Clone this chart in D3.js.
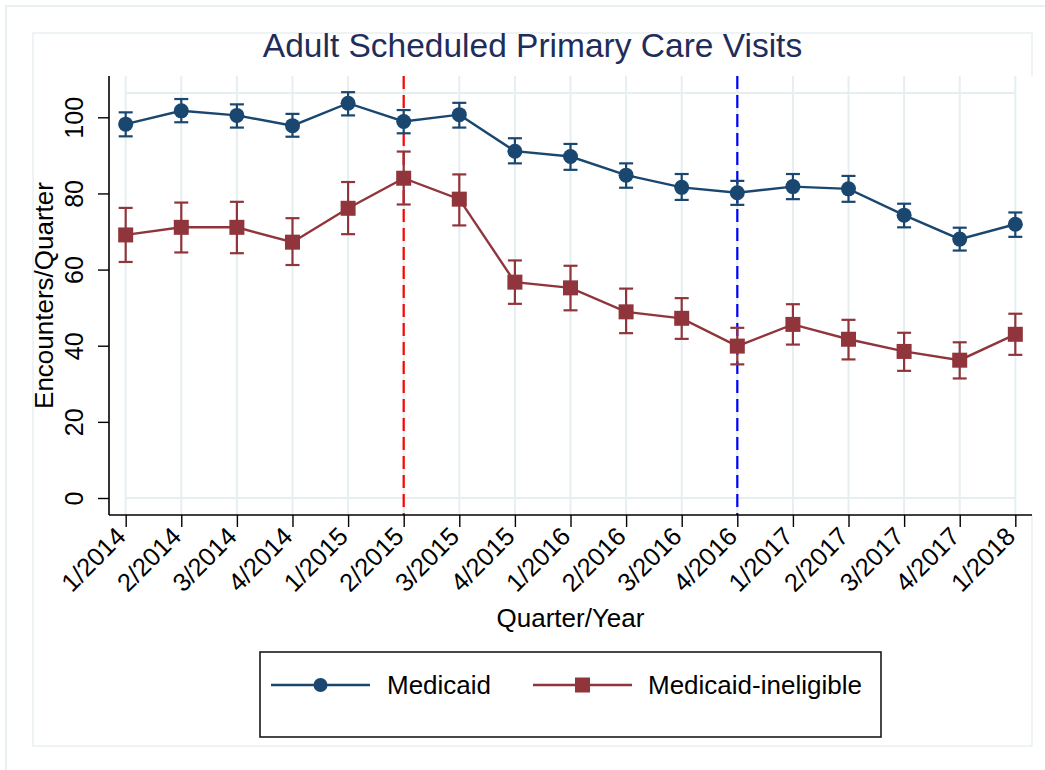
<!DOCTYPE html>
<html><head><meta charset="utf-8">
<script src="https://cdn.jsdelivr.net/npm/d3@7"></script>
<style>
html,body{margin:0;padding:0;background:#fff;}
svg{display:block;font-family:"Liberation Sans",Arial,sans-serif;}
</style></head>
<body>
<svg id="chart" width="1045" height="770"></svg>
<script>
// ---- data ----
const quarters = ["1/2014","2/2014","3/2014","4/2014","1/2015","2/2015","3/2015","4/2015","1/2016","2/2016","3/2016","4/2016","1/2017","2/2017","3/2017","4/2017","1/2018"];
const medicaid      = [98.2,101.7,100.5,97.8,103.7,98.9,100.7,91.1,89.7,84.8,81.6,80.2,81.8,81.2,74.3,68.0,71.9];
const medicaidLo    = [95.0,98.7,97.3,94.9,100.5,95.8,97.3,87.9,86.2,81.5,78.3,77.0,78.5,77.8,71.1,65.0,68.6];
const medicaidHi    = [101.3,104.8,103.4,100.9,106.6,101.9,103.8,94.5,93.0,87.9,85.1,83.3,85.1,84.6,77.3,71.0,75.0];
const ineligible    = [69.1,71.1,71.1,67.2,76.1,84.0,78.5,56.7,55.2,48.9,47.2,39.9,45.6,41.7,38.5,36.2,43.0];
const ineligibleLo  = [62.0,64.5,64.3,61.2,69.3,77.1,71.6,51.0,49.3,43.3,41.8,35.1,40.3,36.4,33.4,31.4,37.6];
const ineligibleHi  = [76.2,77.6,77.8,73.5,83.0,91.0,85.0,62.4,61.0,55.0,52.5,44.7,50.9,46.8,43.4,40.9,48.4];
const yTicks = [0,20,40,60,80,100];
const refLines = [{q:"2/2015", color:"#ff0000"},{q:"4/2016", color:"#0000ff"}];
const seriesNames = ["Medicaid","Medicaid-ineligible"];
const title = "Adult Scheduled Primary Care Visits";
const yTitle = "Encounters/Quarter";
const xTitle = "Quarter/Year";

// ---- layout ----
const svg = d3.select("#chart");
const P = {left:109, right:1032, top:76, bottom:515};
const navy = "#1a476f", maroon = "#90353b", grid = "#e6eef0";

const x = d3.scalePoint().domain(quarters).range([P.left, P.right]).padding(0.3);
const y = d3.scaleLinear().domain([0,100]).range([498,117.3]);

// outer frames
svg.append("rect").attr("x",6).attr("y",6).attr("width",1060).attr("height",790)
  .attr("fill","none").attr("stroke","#e9f0f2").attr("stroke-width",2);
svg.append("rect").attr("x",33).attr("y",33).attr("width",999).attr("height",713)
  .attr("fill","none").attr("stroke","#e9f0f2").attr("stroke-width",1.5);
// plot region
svg.append("rect").attr("x",P.left).attr("y",P.top).attr("width",P.right-P.left+2).attr("height",P.bottom-P.top)
  .attr("fill","#fff");

// grid: verticals at each quarter
svg.append("g").selectAll("line").data(quarters).join("line")
  .attr("x1",d=>x(d)).attr("x2",d=>x(d)).attr("y1",P.top).attr("y2",P.bottom)
  .attr("stroke",grid).attr("stroke-width",2);
// inner plot-region outline (horizontal lines)
const innerTop = 93;
svg.append("line").attr("x1",x(quarters[0])).attr("x2",x(quarters[quarters.length-1]))
  .attr("y1",innerTop).attr("y2",innerTop).attr("stroke",grid).attr("stroke-width",2);
svg.append("line").attr("x1",x(quarters[0])).attr("x2",x(quarters[quarters.length-1]))
  .attr("y1",y(0)).attr("y2",y(0)).attr("stroke",grid).attr("stroke-width",2);

// reference dashed lines
svg.append("g").selectAll("line").data(refLines).join("line")
  .attr("x1",d=>x(d.q)).attr("x2",d=>x(d.q)).attr("y1",P.top).attr("y2",P.bottom)
  .attr("stroke",d=>d.color).attr("stroke-width",2.2).attr("stroke-dasharray","13,6");

// axes
const yAxis = svg.append("g").attr("transform",`translate(${P.left},0)`)
  .call(d3.axisLeft(y).tickValues(yTicks).tickSize(11).tickFormat(d3.format("d")));
yAxis.select(".domain").attr("d",`M0,${P.top}V${P.bottom}`).attr("stroke","#000").attr("stroke-width",1.6);
yAxis.selectAll(".tick line").attr("stroke","#000").attr("stroke-width",1.4);
yAxis.selectAll(".tick text").attr("x",null).attr("dy",null)
  .attr("transform","translate(-26,0) rotate(-90)").attr("text-anchor","middle")
  .attr("font-size",25).attr("fill","#000").attr("font-family","Liberation Sans, Arial, sans-serif");

const xAxis = svg.append("g").attr("transform",`translate(0,${P.bottom})`)
  .call(d3.axisBottom(x).tickSize(12));
xAxis.select(".domain").attr("d",`M${P.left},0H${P.right}`).attr("stroke","#000").attr("stroke-width",1.6);
xAxis.selectAll(".tick line").attr("stroke","#000").attr("stroke-width",1.4);
xAxis.selectAll(".tick text").attr("y",null).attr("dy",null)
  .attr("transform","translate(1,23) rotate(-45)").attr("text-anchor","end")
  .attr("font-size",25.5).attr("fill","#000").attr("font-family","Liberation Sans, Arial, sans-serif");

// titles
svg.append("text").attr("x",532.5).attr("y",57).attr("text-anchor","middle")
  .attr("font-size",33.5).attr("fill","#1f2d5a").text(title);
svg.append("text").attr("transform",`translate(53,${(P.top+P.bottom)/2}) rotate(-90)`).attr("text-anchor","middle")
  .attr("font-size",26).attr("fill","#000").text(yTitle);
svg.append("text").attr("x",(P.left+P.right)/2).attr("y",627).attr("text-anchor","middle")
  .attr("font-size",26).attr("fill","#000").text(xTitle);

// series
const series = [
  {name:seriesNames[0], v:medicaid, lo:medicaidLo, hi:medicaidHi, color:navy, shape:"circle"},
  {name:seriesNames[1], v:ineligible, lo:ineligibleLo, hi:ineligibleHi, color:maroon, shape:"square"}
];
const line = d3.line().x((d,i)=>x(quarters[i])).y(d=>y(d));
series.forEach(s=>{
  const g = svg.append("g");
  const idx = d3.range(quarters.length);
  // error bars
  g.selectAll("line.eb").data(idx).join("line").attr("class","eb")
    .attr("x1",i=>x(quarters[i])).attr("x2",i=>x(quarters[i]))
    .attr("y1",i=>y(s.lo[i])).attr("y2",i=>y(s.hi[i]))
    .attr("stroke",s.color).attr("stroke-width",2.2);
  ["lo","hi"].forEach(k=>{
    g.selectAll("line.cap"+k).data(idx).join("line").attr("class","cap"+k)
      .attr("x1",i=>x(quarters[i])-7).attr("x2",i=>x(quarters[i])+7)
      .attr("y1",i=>y(s[k][i])).attr("y2",i=>y(s[k][i]))
      .attr("stroke",s.color).attr("stroke-width",2.2);
  });
  g.append("path").datum(s.v).attr("d",line).attr("fill","none")
    .attr("stroke",s.color).attr("stroke-width",2.4);
  if(s.shape==="circle"){
    g.selectAll("circle").data(s.v).join("circle")
      .attr("cx",(d,i)=>x(quarters[i])).attr("cy",d=>y(d)).attr("r",7.5).attr("fill",s.color);
  } else {
    g.selectAll("rect").data(s.v).join("rect")
      .attr("x",(d,i)=>x(quarters[i])-7.5).attr("y",d=>y(d)-7.5).attr("width",15).attr("height",15).attr("fill",s.color);
  }
});

// legend
const lg = svg.append("g");
lg.append("rect").attr("x",260).attr("y",652).attr("width",621).attr("height",85)
  .attr("fill","#fff").attr("stroke","#1a1a1a").attr("stroke-width",1.6);
const legItems = [
  {s:series[0], x0:271, tx:387},
  {s:series[1], x0:533, tx:648}
];
legItems.forEach(it=>{
  const ly = 685;
  lg.append("line").attr("x1",it.x0).attr("x2",it.x0+99).attr("y1",ly).attr("y2",ly)
    .attr("stroke",it.s.color).attr("stroke-width",2.4);
  if(it.s.shape==="circle"){
    lg.append("circle").attr("cx",it.x0+49.5).attr("cy",ly).attr("r",7).attr("fill",it.s.color);
  } else {
    lg.append("rect").attr("x",it.x0+49.5-7.5).attr("y",ly-7.5).attr("width",15).attr("height",15).attr("fill",it.s.color);
  }
  lg.append("text").attr("x",it.tx).attr("y",ly+9).attr("font-size",26).attr("fill","#000").text(it.s.name);
});
</script>
</body></html>
